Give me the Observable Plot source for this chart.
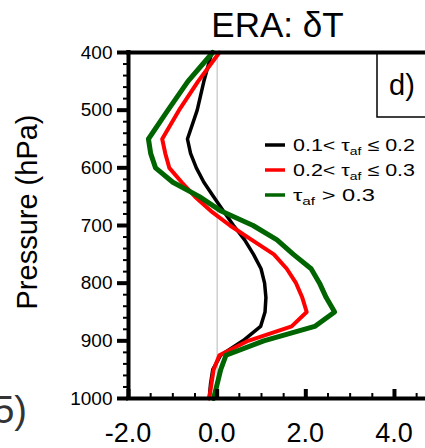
<!DOCTYPE html>
<html><head><meta charset="utf-8">
<script src="https://cdn.jsdelivr.net/npm/d3@7"></script>
<script src="https://cdn.jsdelivr.net/npm/@observablehq/plot@0.6"></script>
<style>body{margin:0;background:#fff;} svg{display:block;}</style>
</head><body><div id="chart"></div>
<script>
// Pressure levels (hPa)
const levels = [400,450,500,550,575,600,625,650,675,700,725,750,775,800,825,850,875,900,925,950,975,1000];
// δT (K) for the three τ_af classes
const tauLow  = [-0.12,-0.30,-0.45,-0.67,-0.60,-0.47,-0.30,-0.08,0.14,0.37,0.62,0.82,0.99,1.07,1.10,1.08,0.98,0.58,0.08,-0.10,-0.15,-0.18];
const tauMid  = [0.05,-0.43,-0.86,-1.24,-1.17,-1.08,-0.80,-0.50,-0.14,0.29,0.78,1.28,1.57,1.78,1.92,2.02,1.68,0.70,0.05,-0.08,-0.13,-0.18];
const tauHigh = [-0.10,-0.66,-1.11,-1.55,-1.50,-1.39,-1.00,-0.40,0.09,0.81,1.35,1.72,2.12,2.31,2.46,2.65,2.20,1.05,0.20,0.08,0.00,-0.08];
const legendMain = ["0.1< τ", "0.2< τ", "τ"];
const legendSub = ["af", "af", "af"];
const legendTail = [" ≤ 0.2", " ≤ 0.3", " > 0.3"];
const seriesColors = ["#000000", "#ff0000", "#006400"];
const yTicks = [400,500,600,700,800,900,1000];
const yMinor = d3.range(400, 1001, 20);
const xTicks = [-2,0,2,4];
const xTickLabels = ["-2.0","0.0","2.0","4.0"];
const xMinor = [-1.5,-1,-0.5,0.5,1,1.5,2.5,3,3.5,4.5];

const rows = (vals) => vals.map((v,i) => ({v, p: levels[i]}));
const W = 425, H = 448, MT = 52, MB = 50, ML = 128;
const FH = H - MT - MB;

const plot = Plot.plot({
  width: W, height: H,
  marginTop: MT, marginBottom: MB, marginLeft: ML, marginRight: 0,
  style: {fontFamily: "Liberation Sans, Arial, sans-serif", background: "white", color: "black"},
  x: {domain: [-2, 4.7], label: null, axis: null},
  y: {domain: [400, 1000], reverse: true, label: null},
  marks: [
    Plot.ruleX([0], {stroke: "#c8c8c8", strokeWidth: 1.3}),
    Plot.line(rows(tauLow),  {x: "v", y: "p", stroke: seriesColors[0], strokeWidth: 3.5, strokeLinejoin: "round"}),
    Plot.line(rows(tauMid),  {x: "v", y: "p", stroke: seriesColors[1], strokeWidth: 4, strokeLinejoin: "round"}),
    Plot.line(rows(tauHigh), {x: "v", y: "p", stroke: seriesColors[2], strokeWidth: 5, strokeLinejoin: "round"}),
    Plot.axisY(yMinor, {anchor: "left", tickSize: 5, strokeWidth: 2, tickFormat: () => "", label: null}),
    Plot.axisY(yTicks, {anchor: "left", tickSize: 11, strokeWidth: 4, tickFormat: () => "", label: null}),
    Plot.axisY(yTicks, {anchor: "left", tickSize: 0, tickPadding: 16, fontSize: 19, tickFormat: d => String(d), label: null}),
    Plot.ruleX(xMinor, {insetTop: FH - 5, strokeWidth: 2}),
    Plot.ruleX(xTicks, {insetTop: FH - 9, strokeWidth: 4}),
    Plot.ruleX([-2], {strokeWidth: 4, strokeLinecap: "square"}),
    Plot.ruleY([400, 1000], {strokeWidth: 4, strokeLinecap: "square"})
  ]
});
document.getElementById("chart").appendChild(plot);

const svg = d3.select(plot);
const ff = "Liberation Sans, Arial, sans-serif";
const xs = plot.scale("x");
// x tick labels
xTicks.forEach((d, i) => {
  svg.append("text").attr("x", xs.apply(d)).attr("y", 442).attr("text-anchor", "middle")
    .attr("font-size", 27).attr("font-family", ff).attr("fill", "black").text(xTickLabels[i]);
});
// title
svg.append("text").attr("x", 277.5).attr("y", 37).attr("text-anchor", "middle")
  .attr("font-size", 35).attr("font-family", ff).attr("fill", "black").text("ERA: δT");
// y label
svg.append("text").attr("transform", "translate(37,212) rotate(-90)").attr("text-anchor", "middle")
  .attr("font-size", 29).attr("font-family", ff).attr("fill", "black").text("Pressure (hPa)");
// cut-off fragment at left
svg.append("text").attr("x", 27).attr("y", 423).attr("text-anchor", "end")
  .attr("font-size", 38).attr("font-family", ff).attr("fill", "#333").text("5)");
// panel label box
svg.append("rect").attr("x", 377).attr("y", 52).attr("width", 70).attr("height", 65)
  .attr("fill", "none").attr("stroke", "black").attr("stroke-width", 1.5);
svg.append("text").attr("x", 402).attr("y", 95).attr("text-anchor", "middle")
  .attr("font-size", 29).attr("font-family", ff).attr("fill", "black").text("d)");
// legend
const legW = [122, 122, 82];
legendMain.forEach((m, i) => {
  const cy = 145 + i * 25;
  svg.append("line").attr("x1", 265).attr("x2", 285).attr("y1", cy).attr("y2", cy)
    .attr("stroke", seriesColors[i]).attr("stroke-width", 3.5);
  const t = svg.append("text").attr("x", 293).attr("y", cy + 6).attr("text-anchor", "start")
    .attr("font-size", 17).attr("font-family", ff).attr("fill", "black")
    .attr("textLength", legW[i]).attr("lengthAdjust", "spacingAndGlyphs");
  t.append("tspan").text(m);
  t.append("tspan").attr("font-size", 11).attr("dy", 4).text(legendSub[i]);
  t.append("tspan").attr("dy", -4).text(legendTail[i]);
});
</script>
</body></html>
